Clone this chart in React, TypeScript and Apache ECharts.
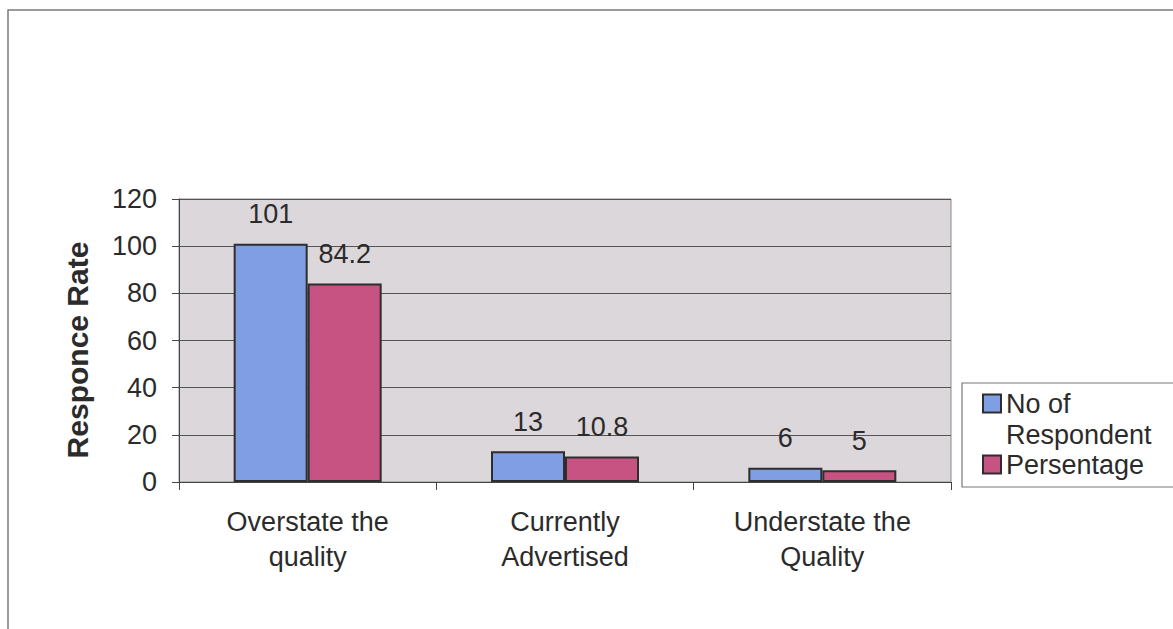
import React, { useEffect, useRef } from "react";
import * as echarts from "echarts";

// Survey answers and their counts / shares
const categories = ["Overstate the\nquality", "Currently\nAdvertised", "Understate the\nQuality"];
const respondents = [101, 13, 6];
const percentage = [84.2, 10.8, 5];
const seriesNames = ["No of Respondent", "Persentage"];
const yTicks = { min: 0, max: 120, interval: 20 };

const FONT = "'Liberation Sans', Arial, Helvetica, sans-serif";
const TEXT = "#2b2b2b";
const FS = 27;

export default function App() {
  const ref = useRef<HTMLDivElement>(null);

  useEffect(() => {
    if (!ref.current) return;
    const chart = echarts.init(ref.current, undefined, { renderer: "svg" });

    const barLabel = {
      show: true,
      position: "top",
      distance: 16,
      fontSize: FS,
      color: TEXT,
      fontFamily: FONT,
    };

    chart.setOption({
      animation: false,
      backgroundColor: "#ffffff",
      textStyle: { fontFamily: FONT },
      graphic: [
        {
          type: "rect",
          z: -10,
          shape: { x: 8, y: 10, width: 1300, height: 800 },
          style: { fill: "none", stroke: "#7a7a7a", lineWidth: 1.5 },
        },
        {
          type: "rect",
          z: -5,
          shape: { x: 962, y: 383, width: 240, height: 104 },
          style: { fill: "#ffffff", stroke: "#777777", lineWidth: 1.2 },
        },
      ],
      grid: {
        left: 179,
        top: 199,
        right: 222,
        bottom: 147,
        show: true,
        backgroundColor: "#dcd7db",
        borderColor: "#8c8c8c",
        borderWidth: 1,
      },
      legend: {
        orient: "vertical",
        left: 962,
        top: 357,
        padding: [0, 0, 0, 20],
        itemWidth: 18,
        itemHeight: 18,
        itemGap: 1,
        selectedMode: false,
        icon: "rect",
        textStyle: { fontSize: FS, color: TEXT, fontFamily: FONT, lineHeight: 25 },
        // leading blank line keeps the icon level with "No of"
        formatter: (name: string) => (name === seriesNames[0] ? "\nNo of\nRespondent" : name),
        data: [
          { name: seriesNames[0], textStyle: { lineHeight: 31 } },
          { name: seriesNames[1] },
        ],
      },
      xAxis: {
        type: "category",
        data: categories,
        axisLine: { show: true, lineStyle: { color: "#444", width: 1 } },
        axisTick: { show: true, length: 8, lineStyle: { color: "#444" } },
        axisLabel: {
          fontSize: FS,
          lineHeight: 35,
          color: TEXT,
          fontFamily: FONT,
          margin: 22,
        },
      },
      yAxis: {
        type: "value",
        min: yTicks.min,
        max: yTicks.max,
        interval: yTicks.interval,
        name: "Responce Rate",
        nameLocation: "middle",
        nameGap: 87,
        nameTextStyle: {
          fontSize: 30,
          fontWeight: "bold",
          color: TEXT,
          fontFamily: FONT,
          padding: [0, 19, 0, 0],
        },
        axisLine: { show: true, lineStyle: { color: "#444", width: 1 } },
        axisTick: { show: true, length: 7, lineStyle: { color: "#444" } },
        axisLabel: { fontSize: FS, color: TEXT, fontFamily: FONT, margin: 22 },
        splitLine: { show: true, lineStyle: { color: "#555", width: 1 } },
      },
      series: [
        {
          name: seriesNames[0],
          type: "bar",
          data: respondents,
          barWidth: 74,
          barGap: "0%",
          itemStyle: { color: "#809ee3", borderColor: "#2e2e2e", borderWidth: 2 },
          label: barLabel,
        },
        {
          name: seriesNames[1],
          type: "bar",
          data: percentage,
          barWidth: 74,
          barGap: "0%",
          itemStyle: { color: "#c75383", borderColor: "#2e2e2e", borderWidth: 2 },
          label: barLabel,
        },
      ],
    });

    return () => chart.dispose();
  }, []);

  return (
    <div
      ref={ref}
      style={{ position: "absolute", left: 0, top: 0, width: 1173, height: 629 }}
    />
  );
}
